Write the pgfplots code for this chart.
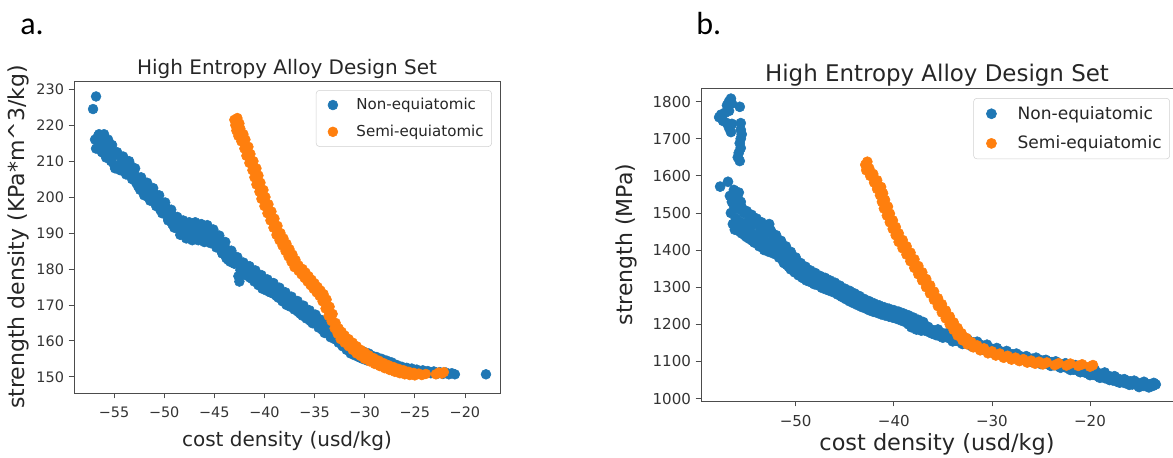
\documentclass[border=0pt]{standalone}
\usepackage{pgfplots}
\pgfplotsset{compat=1.18}
\usepackage{fontspec}
\setmainfont{DejaVu Sans}
\newfontfamily\labfont{Carlito}
\definecolor{tblue}{HTML}{1F77B4}
\definecolor{torange}{HTML}{FF7F0E}
\pgfplotsset{
  heastyle/.style={
    scale only axis,
    axis line style={draw=black!70, line width=0.7pt},
    tick align=outside, xtick pos=bottom, ytick pos=left,
    major tick length=4pt,
    every tick/.style={black!70, line width=0.6pt},
    ticklabel style={font=\fontsize{10.8}{12}\selectfont, text=black!80},
    xticklabel style={yshift=-3pt},
    xlabel style={font=\fontsize{15}{18}\selectfont, text=black!85},
    ylabel style={font=\fontsize{16.5}{18}\selectfont, text=black!85},
    title style={font=\fontsize{15}{18}\selectfont, text=black!85, yshift=-8pt},
    legend style={draw=black!18, rounded corners=2.5pt, fill=white, anchor=north east,
      font=\fontsize{11.3}{13}\selectfont, text=black!85, row sep=6pt, inner xsep=4pt, inner ysep=4pt},
    legend cell align=left,
    scaled ticks=false,
    /pgf/number format/1000 sep={},
    /pgf/number format/assume math mode=true,
    title={High Entropy Alloy Design Set},
    xlabel={cost density (usd/kg)},
  },
  bluemarks/.style={only marks, mark=*, mark size=3.7pt, color=tblue, mark options={draw=tblue, fill=tblue},
    legend image code/.code={\path[draw=none,fill=none] (0cm,-0.1cm) rectangle (0.85cm,0.1cm); \draw[##1] plot coordinates {(0.3cm,0cm)};}},
  orangemarks/.style={only marks, mark=*, mark size=3.7pt, color=torange, mark options={draw=torange, fill=torange},
    legend image code/.code={\path[draw=none,fill=none] (0cm,-0.1cm) rectangle (0.85cm,0.1cm); \draw[##1] plot coordinates {(0.3cm,0cm)};}},
  bluemarksB/.style={only marks, mark=*, mark size=3.8pt, color=tblue, mark options={draw=tblue, fill=tblue},
    legend image code/.code={\path[draw=none,fill=none] (0cm,-0.1cm) rectangle (0.95cm,0.1cm); \draw[##1] plot coordinates {(0.33cm,0cm)};}},
  orangemarksB/.style={only marks, mark=*, mark size=3.8pt, color=torange, mark options={draw=torange, fill=torange},
    legend image code/.code={\path[draw=none,fill=none] (0cm,-0.1cm) rectangle (0.95cm,0.1cm); \draw[##1] plot coordinates {(0.33cm,0cm)};}},
}
\begin{document}
\begin{tikzpicture}
\useasboundingbox (0pt,0pt) rectangle (879.75pt,342.75pt);
\node[anchor=base west, font=\labfont\fontsize{24}{24}\selectfont, inner sep=0pt] at (15pt,316.5pt) {a.};
\node[anchor=base west, font=\labfont\fontsize{24}{24}\selectfont, inner sep=0pt] at (522pt,316.5pt) {b.};
% ---------------- panel a ----------------
\begin{axis}[heastyle,
  at={(55.5pt,48pt)}, anchor=south west,
  width=319.5pt, height=234pt,
  xmin=-59.0, xmax=-16.5, ymin=145.5, ymax=232.3,
  xtick={-55,-50,-45,-40,-35,-30,-25,-20},
  xticklabels={−55,−50,−45,−40,−35,−30,−25,−20},
  ytick={150,160,170,180,190,200,210,220,230},
  ylabel={strength density (KPa*m\textasciicircum 3/kg)},
  ylabel style={at={(axis description cs:-0.1315,0.5)}, anchor=center},
  xlabel style={at={(axis description cs:0.5,-0.155)}, anchor=center},
  legend style={at={(0.981,0.971)}},
]
\addplot[bluemarks] coordinates {
(-57.1,224.5) (-56.8,228)
(-56.9,216) (-56.8,213.5) (-56.6,217) (-56.5,214.5) (-56.3,216.5) (-56.2,212.5) (-56.0,217.5) (-55.9,214) (-55.8,211) (-55.6,216) (-55.5,213) (-55.3,210) (-55.2,214.5) (-55.0,211.5) (-54.9,208) (-54.7,212) (-54.5,209) (-54.3,207.5) (-54.2,210.5) (-54.0,208.5) (-53.8,210) (-53.6,207) (-53.4,209) (-53.2,205.5) (-53.0,207.5) (-52.8,204) (-52.6,205.5) (-52.4,202) (-52.2,204) (-52.0,201) (-51.8,203) (-51.6,200) (-51.4,202) (-51.2,199.5) (-51.0,201) (-50.8,198) (-50.6,199.5) (-50.4,196.5) (-50.2,198.5) (-50.0,195.5) (-49.8,197) (-49.6,194) (-49.4,196) (-49.2,192.5) (-49.0,194.5) (-48.8,191.5) (-48.6,193) (-48.4,190.5) (-48.2,192) (-48.0,190) (-47.8,191.5) (-47.5,189.5) (-47.3,191) (-47.0,190) (-46.8,191.5) (-46.5,189) (-46.3,190.5) (-46.0,189.5) (-45.8,191) (-45.5,188.5) (-45.3,190.5) (-45.0,187.5) (-44.8,189.5) (-44.6,186) (-44.4,188) (-44.2,184.5) (-44.0,186.5) (-43.8,183) (-43.6,185) (-43.4,182) (-43.2,184) (-43.0,181.5) (-42.8,183) (-42.6,178) (-42.5,176.5) (-42.4,181) (-42.2,179.5) (-42.0,181) (-41.8,178.5) (-41.6,180) (-41.4,177.5) (-41.2,179) (-41.0,176.5) (-40.8,178.5) (-40.6,175.5) (-40.4,177.5) (-40.2,174.5) (-40.0,176.5) (-39.8,174) (-39.6,176) (-39.4,173.5) (-39.2,175.5) (-39.0,173) (-38.8,174.5) (-38.6,172) (-38.4,173.5) (-38.2,171) (-38.0,172.5) (-37.8,170) (-37.6,171.5) (-37.4,169.5) (-37.2,171) (-37.0,169) (-36.8,170) (-36.6,168) (-36.4,169.5) (-36.2,167) (-36.0,168.5) (-35.8,166.5) (-35.6,168) (-35.4,165.5) (-35.2,167) (-35.0,165) (-34.8,166.5) (-34.6,164.5) (-34.4,165.5) (-34.2,163) (-34.0,164.5) (-33.8,162.5) (-33.6,163.5) (-33.4,161.5) (-33.2,162.5) (-33.0,160.5) (-32.8,161.5) (-32.6,159.5) (-32.4,160.5) (-32.2,158.5) (-32.0,159.5) (-31.8,157.5) (-31.6,158.5) (-31.4,156.5) (-31.2,157.5) (-31.0,156) (-30.8,157) (-30.6,155.5) (-30.4,156.5) (-30.2,155) (-30.0,156) (-29.8,155.5) (-29.6,156.5) (-29.4,155) (-29.2,155.8) (-29.0,154.5) (-28.8,155.5) (-28.5,154) (-28.3,155) (-28.0,153.5) (-27.8,154.5) (-27.5,153) (-27.3,154) (-27.0,152.5) (-26.8,153.3) (-26.5,152) (-26.3,152.8) (-26.0,151.8) (-25.8,152.5) (-25.5,151.5) (-25.3,152.3) (-25.0,151.5) (-24.8,152) (-24.5,151.3) (-24.2,151.8) (-24.0,151) (-23.7,151.6) (-23.4,151) (-23.1,151.5) (-22.8,150.8) (-22.5,151.3) (-22.2,150.8) (-21.9,151.2) (-21.6,150.7) (-21.3,151) (-21.0,150.7)
(-17.9,150.7)
};
\addlegendentry{Non-equiatomic}
\addplot[bluemarks, forget plot] coordinates {
(-56.5,217.5) (-56.2,212.5) (-55.9,216) (-55.6,211) (-55.3,214) (-55.0,209) (-54.7,212.5) (-54.4,207.5) (-54.1,211.3) (-53.8,206.3) (-53.5,210) (-53.2,205) (-52.9,208) (-52.6,203) (-52.3,205.5) (-52.0,200.5) (-51.7,204) (-51.4,199) (-51.1,202.5) (-50.8,197.5) (-50.5,200.5) (-50.2,195.5) (-49.9,198.5) (-49.6,193.5) (-49.3,196.5) (-49.0,191.5) (-48.7,194.5) (-48.4,189.5) (-48.1,193.5) (-47.8,188.5) (-47.5,193) (-47.2,188) (-46.9,193) (-46.6,188) (-46.3,192.5) (-46.0,187.5) (-45.7,192.2) (-45.4,187.2) (-45.1,191) (-44.8,186) (-44.5,189.3) (-44.2,184.3) (-43.9,187.5) (-43.6,182.5) (-43.3,185.1) (-43.0,181.5) (-42.7,183.3) (-42.4,179.7) (-42.1,181.8) (-41.8,178.2) (-41.5,180.8) (-41.2,177.2) (-40.9,179.6) (-40.6,176) (-40.3,178.3) (-40.0,174.7) (-39.7,177.1) (-39.4,173.5) (-39.1,176.1) (-38.8,172.5) (-38.5,174.8) (-38.2,171.2) (-37.9,173.5) (-37.6,169.9) (-37.3,172.3) (-37.0,168.7) (-36.7,171.1) (-36.4,167.5) (-36.1,169.8) (-35.8,166.2) (-35.5,168.5) (-35.2,164.9) (-34.9,167.3) (-34.6,163.7) (-34.3,165.8) (-34.0,162.2) (-33.7,164.6) (-33.4,161) (-33.1,162.7) (-32.8,160.3) (-32.5,161.2) (-32.2,158.8) (-31.9,160) (-31.6,157.6) (-31.3,158.7) (-31.0,156.3) (-30.7,157.7) (-30.4,155.3) (-30.1,157) (-29.8,154.6)
};
\addplot[orangemarks] coordinates {
(-43.0,221.5) (-42.7,222) (-42.9,220) (-42.5,220.5) (-42.8,218.5) (-42.4,219) (-42.6,217) (-42.1,217.5) (-42.3,215.5) (-41.9,216) (-42.0,213.5) (-41.6,214) (-41.8,211.5) (-41.4,212) (-41.5,209.5) (-41.1,210) (-41.2,207.5) (-40.8,208) (-41.0,205.5) (-40.6,206) (-40.8,203.5) (-40.4,204) (-40.5,201.5) (-40.1,202) (-40.3,199.5) (-39.9,200) (-40.0,197.5) (-39.6,198) (-39.7,195.5) (-39.3,196) (-39.4,193.5) (-39.0,194) (-39.1,191.5) (-38.7,192) (-38.8,189.5) (-38.4,190) (-38.5,188) (-38.1,188.5) (-38.2,186.5) (-37.8,187) (-37.9,185) (-37.5,185.5) (-37.6,183.5) (-37.2,184) (-37.3,182) (-36.9,182.5) (-37.0,180.5) (-36.6,181) (-36.6,179.5) (-36.2,180) (-36.3,178.5) (-35.9,179) (-36.0,177.5) (-35.6,178) (-35.7,176.5) (-35.3,177) (-35.4,175.5) (-35.0,176) (-35.1,174.5) (-34.7,175) (-34.8,173.5) (-34.4,174) (-34.5,172.5) (-34.1,173) (-34.2,171) (-33.8,171.5) (-33.9,169) (-33.5,169.5) (-33.6,167) (-33.2,167.5) (-33.3,165.5) (-32.9,165) (-33.0,163.5) (-32.6,163.5) (-32.7,162) (-32.3,162.5) (-32.4,160.5) (-32.0,161.5) (-32.0,159.5) (-31.6,160.5) (-31.6,158.5) (-31.2,159.5) (-31.2,157.5) (-30.8,158.5) (-30.8,156.5) (-30.4,157.5) (-30.4,155.8) (-30.0,156.8) (-30.0,155) (-29.6,156) (-29.5,154.3) (-29.1,155.2) (-29.0,153.6) (-28.6,154.5) (-28.5,153) (-28.1,153.8) (-28.0,152.4) (-27.6,153.2) (-27.5,151.9) (-27.1,152.7) (-27.0,151.4) (-26.6,152.2) (-26.5,151) (-26.1,151.8) (-26.0,150.7) (-25.6,151.4) (-25.5,150.5) (-25.1,151.1) (-25.0,150.4) (-24.6,150.9) (-24.3,150.5) (-23.9,150.8) (-22.9,150.7) (-22.6,151.2) (-22.3,150.9) (-22.1,151.3)
};
\addlegendentry{Semi-equiatomic}
\end{axis}
% ---------------- panel b ----------------
\begin{axis}[heastyle,
  at={(525.75pt,42pt)}, anchor=south west,
  width=354pt, height=234.75pt,
  xmin=-59.65, xmax=-11.54, ymin=993.3, ymax=1836.7,
  xtick={-50,-40,-30,-20},
  xticklabels={−50,−40,−30,−20},
  ytick={1000,1100,1200,1300,1400,1500,1600,1700,1800},
  ticklabel style={font=\fontsize{11.3}{12}\selectfont},
  title style={font=\fontsize{17.2}{20}\selectfont},
  ylabel={strength (MPa)},
  ylabel style={at={(axis description cs:-0.159,0.5)}, anchor=center},
  xlabel style={at={(axis description cs:0.5,-0.138)}, anchor=center, font=\fontsize{16.8}{19}\selectfont},
  legend style={at={(0.9936,0.968)}, font=\fontsize{12.8}{14}\selectfont, row sep=7pt},
]
\addplot[bluemarksB] coordinates {
(-57.8,1758) (-57.6,1765) (-57.4,1748) (-57.2,1770) (-57.0,1790) (-56.8,1800) (-56.6,1808) (-56.5,1795) (-56.8,1775) (-57.0,1742) (-56.8,1730) (-56.6,1718) (-56.5,1740) (-55.7,1786) (-55.6,1742) (-55.6,1724) (-55.5,1712) (-55.6,1700) (-55.7,1688) (-55.6,1675) (-55.8,1662) (-55.9,1650) (-55.7,1640)
(-57.7,1571) (-56.9,1584) (-56.7,1546) (-56.3,1562) (-55.8,1555) (-55.6,1530) (-55.9,1540)
(-56.6,1500) (-56.4,1470) (-56.3,1520) (-56.1,1485) (-56.0,1455) (-55.8,1510) (-55.6,1475) (-55.5,1445) (-55.3,1500) (-55.1,1465) (-55.0,1435) (-54.8,1480) (-54.6,1450) (-54.4,1425) (-54.2,1470) (-54.0,1440) (-53.8,1415) (-53.6,1455) (-53.4,1430) (-53.2,1410) (-53.0,1445) (-52.8,1420) (-52.7,1470) (-52.6,1455) (-52.5,1400) (-52.3,1430) (-52.1,1410) (-51.9,1390) (-51.7,1415) (-51.5,1395) (-51.3,1372) (-51.1,1390) (-50.9,1360) (-50.7,1375) (-50.5,1348) (-50.3,1362) (-50.1,1340) (-49.9,1352) (-49.7,1332) (-49.5,1345) (-49.3,1325) (-49.1,1338) (-48.9,1318) (-48.7,1332) (-48.5,1314) (-48.3,1326) (-48.1,1308) (-47.9,1322) (-47.7,1305) (-47.5,1316) (-47.3,1298) (-47.1,1312) (-46.9,1294) (-46.7,1306) (-46.5,1290) (-46.3,1302) (-46.1,1286) (-45.9,1296) (-45.7,1280) (-45.5,1290) (-45.3,1274) (-45.1,1284) (-44.9,1268) (-44.7,1278) (-44.5,1262) (-44.3,1272) (-44.1,1257) (-43.9,1266) (-43.7,1252) (-43.5,1261) (-43.3,1247) (-43.1,1256) (-42.9,1243) (-42.7,1251) (-42.5,1238) (-42.3,1247) (-42.1,1234) (-41.9,1243) (-41.7,1231) (-41.5,1239) (-41.3,1227) (-41.1,1236) (-40.9,1224) (-40.7,1233) (-40.5,1221) (-40.3,1230) (-40.1,1218) (-39.9,1227) (-39.7,1215) (-39.5,1224) (-39.3,1211) (-39.1,1220) (-38.9,1207) (-38.7,1216) (-38.5,1200) (-38.3,1212) (-38.1,1196) (-37.9,1207) (-37.7,1192) (-37.5,1201) (-37.3,1188) (-37.1,1196) (-36.9,1184) (-36.7,1192) (-36.5,1180) (-36.3,1187) (-36.1,1175) (-35.9,1183) (-35.7,1171) (-35.5,1178) (-35.3,1168) (-35.1,1177)
(-34.9,1168) (-34.7,1174) (-34.5,1164) (-34.3,1170) (-34.1,1160) (-33.9,1166) (-33.7,1156) (-33.5,1163) (-33.3,1153) (-33.1,1160) (-32.9,1150) (-32.7,1157) (-32.5,1147) (-32.3,1154) (-32.1,1144) (-31.9,1151) (-31.7,1141) (-31.5,1148) (-31.3,1137) (-31.1,1144) (-30.9,1133) (-30.7,1140) (-30.5,1130) (-30.3,1137) (-30.1,1127) (-29.9,1133) (-29.7,1124) (-29.5,1130) (-29.3,1121) (-29.1,1127) (-28.9,1118) (-28.7,1124) (-28.5,1116) (-28.3,1121) (-28.1,1113) (-27.9,1119) (-27.7,1111) (-27.5,1116) (-27.3,1108) (-27.1,1114) (-26.9,1106) (-26.7,1111) (-26.5,1104) (-26.3,1109) (-26.1,1102) (-25.9,1107) (-25.7,1100) (-25.5,1106) (-25.3,1098) (-25.1,1104) (-24.9,1096) (-24.7,1102) (-24.5,1094) (-24.3,1100) (-24.1,1092) (-23.9,1098) (-23.7,1090) (-23.5,1096) (-23.3,1088) (-23.1,1094) (-22.9,1086) (-22.7,1092) (-22.5,1084) (-22.3,1090) (-22.1,1081) (-21.9,1088) (-21.7,1078) (-21.5,1085) (-21.3,1076) (-21.1,1082) (-20.9,1073) (-20.7,1080) (-20.5,1070) (-20.3,1077) (-20.1,1067) (-19.9,1074) (-19.7,1064) (-19.5,1071) (-19.3,1061) (-19.1,1068) (-18.9,1058) (-18.7,1066) (-18.5,1055) (-18.3,1062) (-18.1,1052) (-17.9,1059) (-17.7,1049) (-17.5,1056) (-17.3,1046) (-17.1,1053) (-16.9,1044) (-16.7,1050) (-16.5,1042) (-16.3,1048) (-16.1,1040) (-15.9,1046) (-15.7,1038) (-15.5,1044) (-15.3,1037) (-15.1,1042) (-14.9,1036) (-14.7,1041) (-14.5,1034) (-14.3,1040) (-14.1,1033) (-13.9,1038) (-13.6,1034) (-13.3,1038)
};
\addlegendentry{Non-equiatomic}
\addplot[bluemarksB, forget plot] coordinates {
(-56.5,1530) (-56.2,1455) (-56.0,1525) (-55.7,1450) (-55.5,1515) (-55.2,1440) (-55.0,1505) (-54.7,1430) (-54.5,1495) (-54.2,1420) (-54.0,1485) (-53.7,1410) (-53.5,1475) (-53.2,1400) (-53.0,1465) (-52.7,1395) (-52.5,1450) (-52.2,1390) (-52.0,1440) (-51.7,1380) (-51.5,1425) (-51.2,1365) (-51.0,1410) (-50.7,1355) (-50.5,1395) (-50.2,1345) (-50.0,1380) (-49.7,1335) (-49.5,1365) (-49.2,1325) (-49.0,1355) (-48.7,1320) (-48.5,1345) (-48.2,1312) (-48.0,1338) (-47.7,1306) (-47.5,1330) (-47.2,1300) (-47.0,1325) (-46.7,1296) (-46.5,1318) (-46.2,1290) (-46.0,1312) (-45.7,1284) (-45.5,1304) (-45.2,1278) (-45.0,1296) (-44.7,1272) (-44.5,1290) (-44.2,1266) (-44.0,1283) (-43.7,1260) (-43.5,1276) (-43.2,1254) (-43.0,1268) (-42.7,1248) (-42.5,1262) (-42.2,1243) (-42.0,1256) (-41.7,1238) (-41.5,1251) (-41.2,1234) (-41.0,1246) (-40.7,1229) (-40.5,1242) (-40.2,1225) (-40.0,1238) (-39.7,1221) (-39.5,1234) (-39.2,1216) (-39.0,1229) (-38.7,1210) (-38.5,1224) (-38.2,1192) (-38.0,1218) (-37.7,1186) (-37.5,1212) (-37.2,1183) (-37.0,1206)
(-36.5,1193) (-36.0,1176) (-35.5,1186) (-35.0,1164) (-34.5,1176) (-34.0,1154) (-33.5,1168) (-33.0,1147) (-32.5,1160) (-32.0,1140) (-31.5,1153) (-31.0,1132) (-30.5,1145) (-30.0,1124) (-29.5,1136) (-29.0,1117) (-28.5,1128) (-28.0,1110) (-27.5,1121) (-27.0,1104) (-26.5,1114) (-26.0,1099) (-25.5,1110) (-25.0,1093) (-24.5,1104) (-24.0,1088) (-23.5,1100) (-23.0,1083) (-22.5,1095) (-22.0,1077) (-21.5,1090) (-21.0,1071) (-20.5,1084) (-20.0,1063) (-19.5,1077) (-19.0,1056) (-18.5,1070) (-18.0,1050) (-17.5,1060) (-17.0,1043) (-16.5,1052) (-16.0,1037) (-15.5,1048) (-15.0,1031) (-14.5,1045) (-14.0,1030) (-13.5,1042)
};
\addplot[orangemarksB] coordinates {
(-42.9,1630) (-42.7,1638) (-42.8,1615) (-42.5,1620) (-42.4,1600) (-42.1,1605) (-42.0,1582) (-41.7,1588) (-41.7,1565) (-41.3,1570) (-41.4,1548) (-41.1,1553) (-41.2,1530) (-40.9,1535) (-41.0,1512) (-40.6,1517) (-40.7,1493) (-40.4,1498) (-40.4,1475) (-40.1,1480) (-40.1,1457) (-39.8,1462) (-39.8,1440) (-39.5,1445) (-39.5,1422) (-39.1,1427) (-39.1,1405) (-38.7,1410) (-38.7,1388) (-38.3,1393) (-38.3,1370) (-37.9,1375) (-37.9,1352) (-37.5,1357) (-37.5,1335) (-37.1,1340) (-37.1,1318) (-36.7,1322) (-36.7,1300) (-36.3,1305) (-36.3,1283) (-35.9,1288) (-35.9,1266) (-35.5,1270) (-35.5,1249) (-35.1,1254) (-35.1,1232) (-34.7,1237) (-34.7,1216) (-34.3,1221) (-34.3,1200) (-33.9,1205) (-33.9,1185) (-33.5,1190) (-33.5,1170) (-33.1,1176) (-33.0,1157) (-32.6,1163) (-32.5,1146) (-32.1,1152) (-31.9,1138) (-31.5,1143) (-31.2,1130) (-30.8,1135) (-30.4,1122) (-30.0,1127) (-29.6,1116) (-29.2,1121) (-28.8,1110) (-28.4,1115) (-28.0,1105) (-27.6,1110) (-27.2,1101) (-26.8,1106) (-26.4,1097) (-26.0,1102) (-25.6,1094) (-25.2,1099) (-24.8,1092) (-24.4,1097) (-23.6,1090) (-23.2,1095) (-22.4,1089) (-22.0,1094) (-21.2,1088) (-20.8,1092) (-20.0,1086) (-19.7,1090)
};
\addlegendentry{Semi-equiatomic}
\end{axis}
\end{tikzpicture}
\end{document}
